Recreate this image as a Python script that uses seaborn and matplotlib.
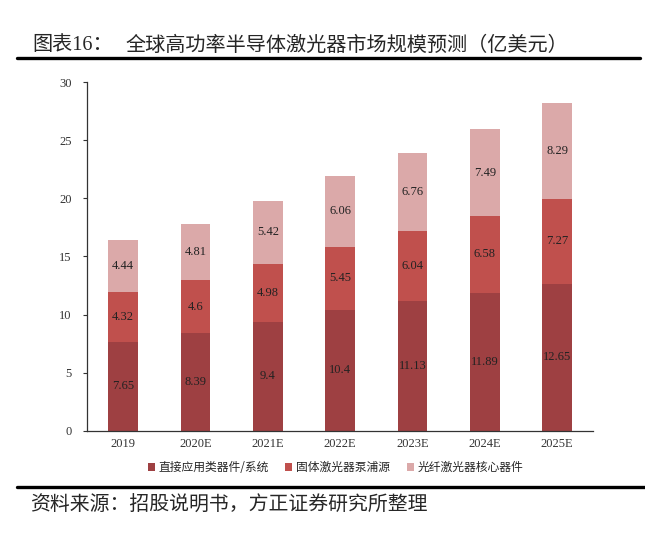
import numpy as np
import pandas as pd
import matplotlib
matplotlib.use('Agg')
import matplotlib.pyplot as plt
import seaborn as sns
from matplotlib.patches import Patch
from matplotlib.lines import Line2D

years = ['2019', '2020E', '2021E', '2022E', '2023E', '2024E', '2025E']
direct = [7.65, 8.39, 9.4, 10.4, 11.13, 11.89, 12.65]
solid_pump = [4.32, 4.6, 4.98, 5.45, 6.04, 6.58, 7.27]
fiber_core = [4.44, 4.81, 5.42, 6.06, 6.76, 7.49, 8.29]
series_names = ['直接应用类器件/系统', '固体激光器泵浦源', '光纤激光器核心器件']
colors = ['#9E4042', '#C0504D', '#DBA9A9']

sns.set_style('white')
plt.rcParams['font.family'] = ['Liberation Serif', 'Noto Sans CJK SC', 'DejaVu Sans']

df = pd.DataFrame({'year': years, 'direct': direct, 'solid': solid_pump, 'fiber': fiber_core})

fig = plt.figure(figsize=(6.45, 5.58), dpi=100)
ax = fig.add_axes([0.135, 0.228, 0.785, 0.625])

bottom1 = np.array(direct)
bottom2 = bottom1 + np.array(solid_pump)
bar_kw = dict(width=0.41, saturation=1, linewidth=0, ax=ax)
sns.barplot(data=df, x='year', y='direct', color=colors[0], **bar_kw)
sns.barplot(data=df, x='year', y='solid', color=colors[1], bottom=bottom1, **bar_kw)
sns.barplot(data=df, x='year', y='fiber', color=colors[2], bottom=bottom2, **bar_kw)

for cont, vals in zip(ax.containers, [direct, solid_pump, fiber_core]):
    ax.bar_label(cont, labels=[f'{v:g}' for v in vals], label_type='center', fontsize=9, color='#222222')

ax.set_ylim(0, 30)
ax.set_xlim(-0.5, 6.5)
ax.set_yticks([0, 5, 10, 15, 20, 25, 30])
ax.set_xlabel('')
ax.set_ylabel('')
for s in ['top', 'right']:
    ax.spines[s].set_visible(False)
for s in ['left', 'bottom']:
    ax.spines[s].set_color('#333333')
    ax.spines[s].set_linewidth(0.9)
ax.tick_params(axis='y', direction='out', length=3, width=0.8, labelsize=9, colors='#333333', left=True)
ax.tick_params(axis='x', length=0, labelsize=9, colors='#333333', pad=5)
ax.yaxis.set_tick_params(pad=8)

handles = [Patch(facecolor=c, edgecolor='none') for c in colors]
fig.legend(handles, series_names, loc='center', bbox_to_anchor=(0.52, 0.162), ncol=3, frameon=False,
           handlelength=0.6, handleheight=0.6, handletextpad=0.3, columnspacing=1.4,
           prop={'family': ['Noto Sans CJK SC'], 'size': 8.5})

# title block
fig.text(32 / 645, 1 - 45 / 558, '图表16：', fontsize=14.5, va='center', ha='left')
fig.text(125 / 645, 1 - 45 / 558, '全球高功率半导体激光器市场规模预测（亿美元）', fontsize=14.5,
         family=['Noto Sans CJK SC'], va='center', ha='left')
fig.add_artist(Line2D([17 / 645, 640 / 645], [1 - 58 / 558] * 2, color='black', linewidth=2.4,
                      transform=fig.transFigure))

# source block
fig.add_artist(Line2D([17 / 645, 1.0], [1 - 487 / 558] * 2, color='black', linewidth=2.4,
                      transform=fig.transFigure))
fig.text(30 / 645, 1 - 505 / 558, '资料来源：招股说明书，方正证券研究所整理', fontsize=14.3,
         family=['Noto Sans CJK SC'], style='italic', va='center', ha='left')

fig.savefig('out.png', dpi=100)
